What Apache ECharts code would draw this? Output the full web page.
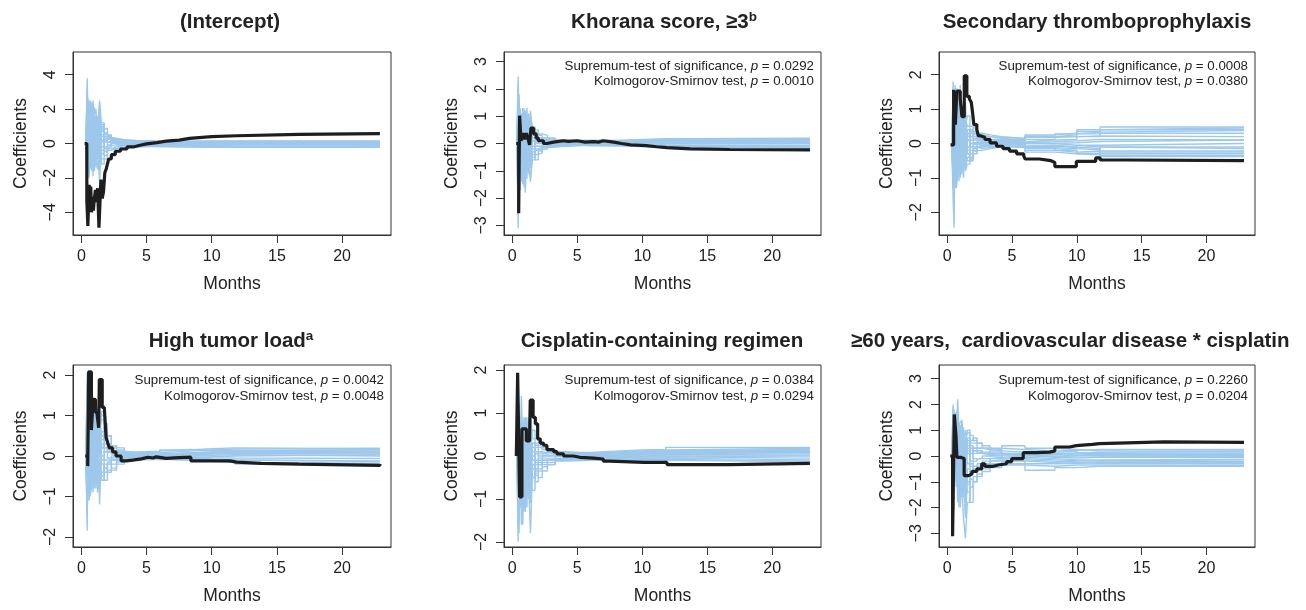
<!DOCTYPE html>
<html>
<head>
<meta charset="utf-8">
<script src="https://cdn.jsdelivr.net/npm/echarts@6/dist/echarts.min.js"></script>
<style>
  html, body { margin: 0; background: #fff; }
  #chart { width: 1306px; height: 610px; }
</style>
</head>
<body>
<div id="chart"></div>
<script>
// time grid shared by the resampled (light blue) processes
const simTimes = [0.35, 0.45, 0.52, 0.6, 0.7, 0.8, 0.9, 1.0, 1.12, 1.25, 1.4, 1.55, 1.75, 2.0, 2.3, 2.7, 3.3, 4.2, 6.0, 8.3, 10, 11.8, 22.9];
const xTicks = [0, 5, 10, 15, 20];

// (Intercept)
const interceptT = [0.25, 0.42, 0.5, 0.6, 0.66, 0.72, 0.78, 0.85, 0.92, 1.0, 1.08, 1.15, 1.25, 1.35, 1.5, 1.6, 1.7, 1.8, 1.9, 2.0, 2.1, 2.3, 2.6, 3.0, 3.5, 4.0, 4.5, 5.0, 5.8, 6.5, 7.5, 8.3, 10, 11.9, 16.7, 22.9];
const interceptCoef = [0, -3.3, -4.8, -2.4, -3.6, -2.5, -4.0, -3.1, -3.9, -3.2, -2.7, -3.4, -2.6, -4.9, -2.1, -3.2, -2.8, -1.7, -1.5, -1.2, -0.9, -0.65, -0.45, -0.32, -0.2, -0.1, -0.02, 0.05, 0.14, 0.2, 0.3, 0.4, 0.45, 0.53, 0.57, 0.57];
const interceptSims = [
  [0, 3.8, 1.2, 2.1, 0.4, 1.5, 0.6, 1.0, 0.3, 0.8, 0.5, 0.7, 0.4, 0.3, 0.2, 0.15, 0.12, 0.1, 0.12, 0.13, 0.13, 0.14, 0.14],
  [0, -2.4, 0.8, -0.6, 2.5, 1.1, -0.4, 0.6, 1.6, 0.9, 2.5, 1.1, 0.6, 0.4, 0.25, 0.18, 0.1, 0.08, 0.06, 0.07, 0.07, 0.08, 0.08],
  [0, 1.5, -1.8, 0.4, -0.8, 2.4, 1.2, -0.5, 0.4, -0.9, 0.3, -0.6, -0.3, -0.1, -0.15, -0.1, -0.08, -0.1, -0.12, -0.13, -0.14, -0.15, -0.15],
  [0, -0.8, 2.6, 1.4, -1.5, -0.2, 1.9, 1.3, -0.6, 0.5, -1.1, 0.8, 0.9, 0.5, 0.3, 0.2, 0.14, 0.12, 0.1, 0.1, 0.1, 0.11, 0.11],
  [0, 2.2, -0.5, -2.0, 0.9, -1.3, 0.2, -1.6, 0.9, 1.4, -0.4, 0.2, -0.2, -0.4, -0.3, -0.25, -0.2, -0.17, -0.19, -0.2, -0.2, -0.21, -0.21],
  [0, 0.6, 1.9, -0.9, 1.7, 0.5, -1.9, 0.1, 1.2, -0.3, 1.6, -0.9, 0.3, 0.2, 0.1, 0.05, 0.0, -0.02, -0.03, -0.04, -0.05, -0.05, -0.05],
  [0, -1.6, -0.2, 1.6, -1.2, 2.0, 0.7, -1.0, -0.3, 1.1, -1.5, 0.4, -0.7, -0.3, -0.2, -0.12, -0.1, -0.1, -0.12, -0.14, -0.15, -0.16, -0.16],
  [0, 1.0, 2.4, 0.3, 1.0, -1.6, 1.4, 2.1, 0.6, -0.8, 0.9, 1.2, 0.5, 0.35, 0.3, 0.22, 0.18, 0.15, 0.14, 0.15, 0.15, 0.15, 0.15],
  [0, -0.4, 0.6, 2.5, 0.2, 0.9, -0.8, 0.4, -1.4, 0.2, 2.2, -0.2, 0.1, 0.1, 0.0, 0.03, 0.02, 0.0, 0.02, 0.01, 0.02, 0.02, 0.02],
  [0, 2.9, -1.3, 0.8, 1.3, -0.5, 2.3, -0.2, 1.0, 0.6, -0.6, 1.0, 0.6, 0.45, 0.1, 0.0, -0.1, -0.05, -0.06, -0.08, -0.08, -0.09, -0.09],
  [0, -2.1, 1.4, -1.1, 0.6, 1.7, -1.2, 0.9, -0.9, -1.5, 0.6, -1.2, -0.9, -0.3, -0.3, -0.2, -0.15, -0.18, -0.2, -0.22, -0.22, -0.22, -0.22],
  [0, 1.2, 0.2, 1.8, 2.2, 0.3, 0.9, 1.7, 2.0, 0.4, 1.3, 0.5, 0.2, -0.1, 0.12, 0.1, 0.08, 0.05, 0.06, 0.07, 0.08, 0.08, 0.08],
  [0, 3.2, -0.9, -1.4, 0.3, -0.7, 1.6, -1.3, 0.2, -0.4, -2.2, 0.1, 0.4, 0.25, 0.0, -0.05, -0.03, -0.12, -0.14, -0.17, -0.18, -0.18, -0.18],
  [0, -1.2, 1.6, 0.6, 1.8, -1.0, 0.4, 1.4, -0.2, 1.6, 0.8, -0.4, -0.5, -0.2, 0.2, 0.15, 0.12, 0.1, 0.11, 0.12, 0.1, 0.11, 0.11],
  [0, 0.3, -1.1, 1.1, -0.4, 1.2, 2.5, 0.3, 1.4, -0.1, 0.5, 0.9, 0.1, 0.05, -0.05, -0.08, -0.04, -0.02, -0.01, 0.0, -0.01, 0.0, 0.0]
];

// Khorana score >= 3
const khoranaT = [0.3, 0.49, 0.56, 0.67, 0.82, 0.95, 1.08, 1.2, 1.33, 1.43, 1.64, 1.84, 2.0, 2.4, 2.66, 3.18, 3.94, 4.3, 5.0, 5.6, 6.25, 6.63, 7.0, 7.8, 8.4, 9.1, 10.3, 11.1, 11.9, 13.7, 16.7, 22.9];
const khoranaCoef = [0, -2.55, 1.02, 0.1, 0.38, 0.15, 0.38, 0.2, -0.05, 0.56, 0.35, 0.2, 0.1, 0.0, 0.05, 0.1, 0.08, 0.1, 0.05, 0.07, 0.05, 0.1, 0.05, 0.0, -0.05, -0.08, -0.12, -0.15, -0.2, -0.22, -0.23, -0.23];
const khoranaSims = [
  [0, 2.45, 0.8, 1.3, 0.5, 1.2, 0.3, 0.9, 0.4, 0.2, 1.2, 0.4, 0.3, 0.2, 0.15, 0.1, 0.08, 0.1, 0.12, 0.15, 0.18, 0.19, 0.19],
  [0, -3.1, 1.8, -0.5, 0.9, -0.3, 1.3, 0.2, -0.6, 0.5, -0.4, 0.2, 0.0, 0.1, 0.05, 0.03, 0.05, 0.05, 0.08, 0.1, 0.12, 0.14, 0.14],
  [0, 1.8, -1.6, 0.7, -1.2, 0.4, -0.5, -1.8, 0.3, -0.7, -1.4, -0.3, -0.6, -0.2, -0.1, -0.05, -0.02, 0.0, 0.02, 0.03, 0.05, 0.06, 0.06],
  [0, -1.2, 0.6, 1.2, -0.3, -1.5, 0.8, 0.3, 1.0, 0.6, 0.7, 0.5, 0.4, 0.3, 0.2, 0.15, 0.1, 0.12, 0.1, 0.08, 0.1, 0.11, 0.11],
  [0, 1.1, -0.9, -1.3, 0.6, 0.2, -1.0, 0.8, -0.4, -1.1, 0.3, -0.5, -0.4, -0.35, -0.2, -0.12, -0.08, -0.05, -0.06, -0.08, -0.1, -0.12, -0.12],
  [0, -2.0, 1.4, 0.2, 1.1, -0.7, 0.5, -0.4, 1.3, -0.2, 0.9, 0.6, 0.5, 0.35, 0.3, 0.2, 0.12, 0.08, 0.06, 0.05, 0.03, 0.02, 0.02],
  [0, 0.6, 0.3, -1.0, -0.6, 1.0, -1.6, -1.0, 0.1, 0.4, -0.8, 0.1, -0.1, -0.15, -0.1, -0.08, -0.05, -0.03, -0.02, -0.03, -0.05, -0.06, -0.06],
  [0, 1.5, -1.4, 0.4, 1.0, 0.6, 0.2, 0.4, -0.9, 0.9, -0.2, 0.3, 0.05, 0.1, 0.12, 0.1, 0.05, 0.02, 0.04, 0.06, 0.08, 0.09, 0.09],
  [0, -0.8, 0.9, -0.3, -1.4, 0.9, 1.1, -0.6, 0.5, -0.5, 0.4, 0.35, 0.15, 0.0, -0.05, 0.0, 0.0, -0.02, -0.05, -0.1, -0.14, -0.16, -0.16],
  [0, 2.1, 0.2, 0.7, 0.2, -1.1, -0.8, 1.2, -0.3, 0.8, -0.9, -0.4, -0.2, -0.25, -0.15, -0.12, -0.1, -0.06, -0.04, -0.02, -0.01, 0.0, 0.0],
  [0, -1.6, -0.5, -0.8, 0.9, 0.1, 0.6, -1.2, -0.5, 1.1, 0.2, 0.2, 0.1, 0.05, 0.05, 0.04, 0.04, 0.06, 0.09, 0.12, 0.15, 0.17, 0.17],
  [0, 0.9, 1.1, 0.4, -0.4, -0.9, -0.2, 0.5, 0.7, -0.3, -0.2, -0.1, -0.25, -0.3, -0.1, -0.06, -0.06, -0.04, -0.06, -0.08, -0.07, -0.08, -0.08],
  [0, -2.5, 0.4, 1.1, 0.5, 0.6, -0.7, 0.1, -1.3, 0.2, 0.6, 0.45, 0.2, 0.2, 0.12, 0.08, 0.07, 0.04, 0.03, 0.04, 0.07, 0.04, 0.04],
  [0, 1.3, -1.0, -0.2, -0.9, 1.3, 0.4, -0.8, 0.6, -1.0, -1.2, -0.6, -0.1, -0.1, -0.02, -0.04, -0.04, -0.08, -0.09, -0.11, -0.12, -0.13, -0.13],
  [0, -0.6, 0.7, -1.7, 0.3, -0.2, 0.9, 1.0, 0.2, 0.3, 0.1, -0.2, 0.3, 0.15, 0.08, 0.06, 0.02, 0.03, 0.05, 0.07, 0.1, 0.12, 0.12]
];

// Secondary thromboprophylaxis
const thromboT = [0.25, 0.49, 0.62, 0.74, 1.0, 1.13, 1.31, 1.51, 1.7, 1.85, 1.95, 2.05, 2.28, 2.4, 2.6, 2.9, 3.3, 3.8, 4.3, 4.8, 5.35, 5.9, 6.0, 7.1, 8.0, 8.3, 9.96, 11.45, 11.8, 13.8, 22.9];
const thromboCoef = [-0.04, 1.56, 0.55, 1.52, 1.3, 0.78, 1.97, 1.37, 1.3, 1.2, 0.9, 0.55, 0.4, 0.22, 0.18, 0.12, 0.02, -0.08, -0.15, -0.22, -0.3, -0.36, -0.45, -0.5, -0.55, -0.67, -0.52, -0.42, -0.48, -0.5, -0.52];
const thromboSims = [
  [0, 1.8, -0.6, 1.7, 0.5, 1.2, 0.8, 1.2, 0.6, 0.8, 0.5, 0.8, 0.5, 0.3, 0.25, 0.2, 0.15, 0.1, 0.2, 0.25, 0.35, 0.48, 0.48],
  [0, -1.6, -2.45, 0.3, 1.6, -0.3, 1.0, -0.8, 0.5, 0.2, -0.4, 0.1, 0.2, 0.1, 0.05, 0.02, 0.0, 0.0, -0.1, -0.2, -0.3, -0.38, -0.38],
  [0, 1.2, 0.4, -1.3, -0.4, 0.5, -0.7, 1.7, -0.5, 0.4, -0.3, -0.5, -0.3, -0.2, -0.1, -0.05, -0.02, 0.05, 0.12, 0.2, 0.28, 0.4, 0.4],
  [0, -0.8, 0.6, 0.9, -1.3, -0.9, 0.4, -1.0, 0.2, 0.6, 0.4, 0.25, 0.4, 0.25, 0.15, 0.1, 0.1, 0.08, 0.0, -0.05, -0.1, -0.15, -0.15],
  [0, 0.5, -1.2, -0.5, 1.1, 0.3, -0.6, 0.6, -0.9, -0.3, -0.8, -0.6, -0.4, -0.1, -0.05, 0.0, -0.05, -0.1, -0.2, -0.25, -0.22, -0.3, -0.3],
  [0, 1.5, 1.0, 0.6, -0.7, 1.6, -0.6, 0.5, 1.1, -0.5, 0.7, 0.5, 0.2, 0.45, 0.3, 0.25, 0.2, 0.15, 0.25, 0.3, 0.4, 0.45, 0.45],
  [0, -1.1, 0.2, -1.0, 0.8, 0.7, 1.3, -0.4, 0.3, -1.0, 0.1, -0.3, -0.5, -0.3, -0.2, -0.15, -0.1, -0.08, -0.05, -0.1, -0.15, -0.22, -0.22],
  [0, 0.9, -0.4, 1.5, 0.2, -1.0, 0.2, 0.9, -0.6, 0.7, 1.2, -0.2, 0.3, 0.15, 0.12, 0.12, 0.08, 0.05, 0.1, 0.12, 0.2, 0.3, 0.3],
  [0, -0.3, 1.4, 0.2, -1.2, 0.4, -1.1, 0.3, 0.8, -0.2, 0.3, 0.3, -0.1, 0.0, -0.05, -0.08, 0.0, -0.05, -0.15, -0.2, -0.28, -0.35, -0.35],
  [0, 1.0, -0.9, -0.8, 0.6, -0.4, 0.9, -0.2, -0.4, 1.0, -0.7, -0.4, 0.1, -0.15, 0.0, 0.08, 0.05, 0.02, 0.05, 0.08, 0.12, 0.1, 0.1],
  [0, -1.3, 0.8, 0.4, 1.3, 0.6, -0.3, -0.7, 1.0, 0.3, 0.6, 0.2, 0.35, 0.2, 0.1, 0.12, 0.12, 0.12, 0.18, 0.2, 0.22, 0.2, 0.2],
  [0, 0.6, -1.3, -0.2, -0.6, 0.2, 0.5, 1.1, -0.3, -0.6, 0.2, -0.1, 0.0, -0.05, 0.02, 0.05, -0.02, -0.02, -0.08, -0.12, -0.05, 0.0, 0.0],
  [0, -0.5, 1.1, 1.0, 0.4, -0.7, 1.5, 0.0, 0.7, 0.1, -0.2, 0.4, 0.2, 0.35, 0.25, 0.2, 0.18, 0.15, 0.22, 0.28, 0.33, 0.38, 0.38],
  [0, 1.4, -0.2, -0.6, -0.3, 1.4, 0.1, -0.6, -0.2, 0.5, -0.5, -0.2, -0.45, -0.1, -0.15, -0.12, -0.08, -0.12, -0.25, -0.3, -0.33, -0.25, -0.25],
  [0, -0.9, 0.4, 0.7, 0.9, 0.4, -0.2, 0.8, 0.4, -0.4, 0.9, 0.1, 0.0, 0.05, 0.0, -0.02, 0.02, 0.0, 0.0, 0.02, 0.06, 0.1, 0.1],
  [0, 0.3, -0.8, -1.1, -0.2, -0.5, 0.7, -0.9, 0.1, 0.3, -0.2, -0.3, -0.2, -0.25, -0.1, -0.08, -0.1, -0.06, -0.12, -0.15, -0.18, -0.1, -0.1]
];

// High tumor load
const tumorT = [0.3, 0.49, 0.56, 0.77, 0.9, 1.08, 1.2, 1.33, 1.38, 1.6, 1.77, 1.9, 2.0, 2.15, 2.4, 2.66, 3.05, 3.43, 3.94, 4.6, 5.1, 5.5, 5.74, 6.5, 7.5, 8.4, 10.1, 11.4, 11.9, 13.8, 16.7, 22.9];
const tumorCoef = [0, -0.25, 2.08, 0.64, 1.4, 1.1, 1.05, 0.7, 1.89, 1.2, 1.15, 0.45, 0.35, 0.2, 0.1, 0.0, -0.12, -0.1, -0.07, -0.03, -0.05, -0.02, -0.06, -0.04, -0.03, -0.12, -0.12, -0.15, -0.18, -0.2, -0.23, -0.2];
const tumorSims = [
  [0, 2.05, 0.5, 1.5, 0.9, 1.2, 0.6, 1.0, 0.4, 1.2, 0.7, 1.0, 0.4, 0.5, 0.25, 0.15, 0.05, 0.08, 0.12, 0.15, 0.17, 0.19, 0.19],
  [0, -1.85, 1.2, 0.3, 1.5, 0.4, -0.3, 0.9, -0.4, 0.3, -0.6, 0.2, -0.4, -0.2, -0.1, -0.05, -0.02, -0.02, 0.0, 0.02, 0.03, 0.0, 0.0],
  [0, 1.3, -0.8, -0.5, 0.2, -0.8, 1.1, 0.3, -0.6, 0.5, -1.2, 0.3, 0.2, 0.1, 0.1, 0.05, 0.03, 0.05, 0.08, 0.1, 0.1, 0.12, 0.12],
  [0, -0.9, 0.8, 1.1, -0.7, 0.9, 0.5, -0.5, 1.3, -0.2, 0.8, 0.5, 0.3, 0.3, 0.2, 0.12, 0.08, 0.1, 0.15, 0.18, 0.2, 0.18, 0.18],
  [0, 0.7, -1.1, 0.6, -1.0, 0.3, -0.6, -0.8, 0.2, -0.5, 0.4, -0.5, -0.3, -0.4, -0.35, -0.2, -0.1, -0.08, -0.1, -0.12, -0.15, -0.2, -0.2],
  [0, 1.6, 1.4, -0.9, 0.5, 1.4, 0.8, 0.2, 0.9, 1.0, 0.6, 0.9, 0.6, 0.1, 0.05, 0.0, 0.0, -0.03, -0.05, -0.08, -0.1, -0.12, -0.12],
  [0, -1.2, -0.3, 0.9, 1.2, -0.3, 0.2, 1.1, -0.7, 0.6, 0.2, -0.2, -0.6, -0.15, -0.1, -0.08, -0.06, -0.05, -0.04, -0.02, 0.0, 0.03, 0.03],
  [0, 0.4, 0.9, -0.3, -0.4, 1.1, -0.9, 0.5, 0.8, -0.6, 1.1, 0.2, 0.3, 0.25, 0.1, 0.08, 0.04, 0.03, 0.05, 0.06, 0.08, 0.08, 0.08],
  [0, -0.5, -1.0, 1.3, 0.1, 0.0, 1.0, -0.3, 0.3, -0.9, -0.4, -0.6, -0.2, -0.2, -0.3, -0.15, -0.08, -0.07, -0.1, -0.13, -0.16, -0.18, -0.18],
  [0, 1.0, 0.2, -1.1, 0.8, 0.5, 1.3, 0.6, -0.2, 1.1, 0.5, 1.1, 0.8, 0.5, 0.25, 0.2, 0.1, 0.12, 0.16, 0.14, 0.14, 0.15, 0.15],
  [0, -1.5, 0.6, 0.2, -0.9, -0.8, 0.2, 0.4, -0.8, 0.0, 0.3, 0.0, -0.1, -0.1, 0.0, 0.0, -0.02, 0.0, -0.02, -0.04, -0.05, -0.06, -0.06],
  [0, 1.8, -0.5, 0.8, 0.3, 0.2, -0.5, 1.2, 0.6, 0.2, -0.3, -0.4, -0.3, -0.35, -0.2, -0.1, 0.0, 0.02, 0.04, 0.08, 0.1, 0.1, 0.1],
  [0, -0.2, 1.1, -0.6, 1.0, -0.4, 0.7, -0.1, 0.9, 0.4, 0.9, 0.4, 0.5, 0.15, 0.1, 0.05, 0.02, -0.02, -0.06, -0.08, -0.1, -0.14, -0.14],
  [0, 0.9, -0.7, 0.5, -0.2, 0.6, -0.2, 0.8, 0.1, -0.3, 0.5, -0.1, 0.1, -0.05, -0.05, -0.05, -0.03, 0.0, 0.03, 0.05, 0.06, 0.05, 0.05],
  [0, -1.0, 1.5, 0.1, 0.6, -0.5, 0.4, -0.4, 0.5, 0.7, -0.8, 0.6, 0.2, 0.2, 0.1, 0.06, 0.02, 0.04, 0.07, 0.1, 0.12, 0.16, 0.16]
];

// Cisplatin-containing regimen
const cisplatinT = [0.31, 0.41, 0.56, 0.74, 1.08, 1.33, 1.38, 1.6, 1.77, 1.95, 2.15, 2.4, 2.66, 3.18, 3.43, 3.94, 4.7, 5.2, 6.25, 7.0, 7.5, 10.1, 11.9, 16.7, 22.9];
const cisplatinCoef = [0, 1.94, -0.95, 0.63, 0.35, 0.45, 1.3, 0.9, 0.75, 0.4, 0.3, 0.25, 0.15, 0.1, 0.05, 0.0, -0.03, -0.05, -0.07, -0.12, -0.15, -0.15, -0.2, -0.17, -0.17];
const cisplatinSims = [
  [0, -2.0, 0.8, 0.2, 1.4, 0.3, 0.6, 0.2, 0.4, 0.3, 1.0, 0.4, 0.3, 0.2, 0.15, 0.1, 0.05, 0.05, 0.08, 0.1, 0.12, 0.15, 0.15],
  [0, 1.1, -1.2, -0.5, 0.9, -1.6, -0.4, -1.3, 0.2, -0.6, -1.8, -0.3, -0.6, -0.2, -0.1, -0.1, -0.05, -0.02, 0.0, 0.02, 0.03, 0.05, 0.05],
  [0, -1.4, -0.3, 0.6, -1.2, 0.4, 0.9, 0.3, -0.9, 0.5, 0.4, 0.6, 0.4, 0.3, 0.2, 0.15, 0.1, 0.06, 0.1, 0.12, 0.14, 0.18, 0.18],
  [0, 0.5, 0.9, -1.0, -0.6, -0.9, -0.2, 0.8, -0.4, -1.0, -0.6, -0.8, -0.45, -0.5, -0.35, -0.2, -0.1, -0.08, -0.06, -0.08, -0.1, -0.13, -0.13],
  [0, -0.8, -1.5, 0.2, 0.7, 0.2, -1.3, 0.1, 0.6, 0.1, -0.3, 0.1, -0.2, -0.05, 0.0, 0.02, 0.02, 0.0, 0.02, 0.04, 0.05, 0.08, 0.08],
  [0, 0.9, 0.3, -0.7, -1.0, 0.6, 0.4, -0.5, -1.2, 0.3, -0.8, -0.5, -0.3, -0.3, -0.2, -0.15, -0.08, -0.05, -0.03, -0.02, -0.01, 0.0, 0.0],
  [0, -1.1, 0.5, 0.9, 0.5, -0.3, -0.9, 0.9, 0.2, -0.5, 0.2, 0.2, 0.1, 0.1, 0.08, 0.05, 0.03, 0.02, 0.05, 0.07, 0.09, 0.11, 0.11],
  [0, 0.2, -0.9, -0.3, -0.3, 0.1, 0.6, -0.6, -0.1, 0.6, -0.4, 0.3, -0.4, -0.2, -0.15, -0.1, -0.06, -0.1, -0.08, -0.06, -0.05, -0.09, -0.09],
  [0, -1.7, 0.1, -1.2, 0.4, -1.1, 0.2, -0.5, 0.9, -0.2, -1.1, -0.2, 0.05, 0.05, 0.08, 0.08, 0.06, 0.04, 0.07, 0.09, 0.11, 0.13, 0.13],
  [0, 0.6, -0.5, 0.3, -0.8, 0.5, -0.4, 0.5, 0.3, -0.3, 0.5, -0.1, -0.1, -0.1, -0.05, -0.05, 0.0, -0.03, -0.01, 0.0, 0.02, 0.02, 0.02],
  [0, -0.4, 1.0, -0.8, 0.1, -0.6, 0.7, -0.2, -0.6, 0.9, -0.6, 0.3, 0.25, 0.25, 0.15, 0.12, 0.08, 0.08, 0.12, 0.14, 0.15, 0.2, 0.2],
  [0, 1.2, -1.8, 0.5, -1.6, 0.0, -0.7, -0.9, 0.4, -0.4, 0.0, -0.5, -0.35, -0.35, -0.25, -0.2, -0.12, -0.1, -0.1, -0.1, -0.08, -0.12, -0.12],
  [0, -0.9, 0.4, -0.1, 0.6, -0.2, 0.3, 0.6, -0.5, 0.2, 0.7, 0.0, 0.2, 0.0, 0.02, 0.02, -0.02, 0.01, 0.03, 0.05, 0.07, 0.08, 0.08],
  [0, 0.3, -0.7, 0.8, -0.5, 0.3, -1.1, 0.2, 0.5, -0.8, 0.3, -0.3, -0.15, -0.15, -0.1, -0.08, -0.04, -0.05, -0.04, -0.03, -0.02, -0.05, -0.05],
  [0, -1.3, 1.2, -0.4, 0.2, -1.3, 0.1, -1.1, -0.2, 0.4, -0.9, -0.2, -0.3, 0.1, 0.05, 0.0, -0.02, 0.02, 0.05, 0.06, 0.08, 0.12, 0.12]
];

// >=60 years, cardiovascular disease * cisplatin
const interactT = [0.23, 0.41, 0.54, 0.67, 0.74, 1.0, 1.3, 1.64, 1.9, 2.28, 2.66, 2.9, 3.56, 3.94, 4.58, 4.97, 5.86, 6.9, 7.9, 8.3, 9.45, 9.96, 11.2, 11.75, 16.7, 22.9];
const interactCoef = [0, -3.11, 1.61, 0.8, -0.05, -0.1, -0.76, -0.7, -0.6, -0.5, -0.3, -0.4, -0.35, -0.3, -0.22, -0.1, 0.13, 0.15, 0.2, 0.35, 0.4, 0.45, 0.48, 0.55, 0.53, 0.52];
const interactSims = [
  [0, 2.0, 1.2, 1.7, 0.6, 2.2, 1.0, 0.8, 1.3, 0.9, 0.5, 1.0, 0.6, 0.7, 0.5, 0.4, 0.3, 0.25, 0.2, 0.22, 0.25, 0.25, 0.25],
  [0, -1.5, 0.5, -0.8, 1.5, 0.3, -2.0, 0.4, -1.2, -2.4, -3.2, -1.8, -1.2, -1.0, -0.8, -0.5, -0.3, -0.3, -0.55, -0.45, -0.4, -0.4, -0.4],
  [0, 1.4, -1.0, 1.2, -0.5, 0.6, 1.3, -0.4, 0.5, 1.0, 0.2, 0.6, 0.4, 0.2, 0.2, 0.1, 0.1, 0.1, 0.05, 0.02, 0.0, -0.02, -0.02],
  [0, -0.5, 1.8, 0.4, -1.2, 0.8, -0.6, -1.5, 0.3, -1.1, -2.4, -1.0, -1.8, -0.8, -0.5, -0.4, -0.2, -0.15, -0.2, -0.25, -0.28, -0.3, -0.3],
  [0, 0.8, -2.1, 0.1, 1.5, -1.5, 1.2, 1.3, 1.4, 0.5, 1.0, 0.5, 0.3, 0.3, 0.2, 0.1, 0.2, 0.15, 0.1, 0.12, 0.15, 0.18, 0.18],
  [0, -2.0, 1.0, 0.6, -0.4, -1.2, 0.2, -0.6, -1.6, 0.3, -1.5, -0.5, -0.7, -0.5, -0.4, -0.3, -0.1, -0.05, -0.1, -0.15, -0.15, -0.12, -0.12],
  [0, 1.7, -0.3, 1.5, 0.3, 1.0, -0.5, 1.0, 0.2, 0.6, -0.4, 0.2, -0.2, -0.2, -0.1, 0.0, 0.05, 0.02, -0.05, -0.08, -0.05, -0.05, -0.05],
  [0, 0.3, 1.5, -0.5, 0.9, -0.8, 0.7, 0.2, 0.6, -0.5, 0.6, 0.9, 0.8, 0.6, 0.5, 0.3, 0.25, 0.4, 0.3, 0.25, 0.2, 0.2, 0.2],
  [0, -1.0, -0.6, 0.9, -1.0, 0.5, -1.4, -2.0, -0.5, -1.6, -0.9, -1.4, -0.9, -1.0, -0.7, -0.6, -0.45, -0.35, -0.4, -0.35, -0.35, -0.36, -0.36],
  [0, 1.0, 0.7, -0.2, 1.6, 1.8, 0.4, -0.8, -0.2, 0.7, 0.3, 0.1, 0.3, 0.1, 0.15, 0.15, 0.0, -0.1, -0.15, -0.18, -0.2, -0.22, -0.22],
  [0, -0.8, 1.3, 0.2, -0.3, 0.4, -0.9, 0.6, 0.7, 0.1, 0.7, 0.3, 0.5, 0.5, 0.3, 0.3, 0.15, 0.05, 0.1, 0.08, 0.06, 0.05, 0.05],
  [0, 1.9, -0.5, 0.8, 0.6, -0.6, 0.1, -1.0, -0.8, 0.4, -0.8, -1.0, -0.6, -0.4, -0.3, -0.2, -0.15, -0.2, -0.3, -0.28, -0.25, -0.25, -0.25],
  [0, -0.2, 0.9, -1.0, 1.0, 1.3, 0.8, 0.3, 1.0, -0.3, 0.3, -0.3, 0.2, -0.1, -0.1, -0.1, -0.05, 0.0, 0.05, 0.1, 0.12, 0.1, 0.1],
  [0, 0.6, -0.8, 1.3, -0.6, 0.2, -0.4, 1.2, -0.3, 0.8, -0.3, 0.4, -0.4, 0.2, 0.1, 0.05, 0.1, 0.05, -0.02, 0.0, 0.03, 0.02, 0.02],
  [0, -1.2, 0.3, 0.5, 0.2, -0.5, 1.1, -0.2, -1.1, -0.6, 0.5, -1.1, -0.3, -0.6, -0.5, -0.35, -0.3, -0.2, -0.25, -0.2, -0.18, -0.16, -0.16],
  [0, 1.2, 0.0, -0.4, 0.9, -1.8, 0.5, 0.9, 0.1, 1.1, -1.8, 0.7, 0.1, 0.3, 0.3, 0.25, 0.2, 0.1, 0.15, 0.18, 0.1, 0.12, 0.12]
];

const interceptTicks = [-4, -2, 0, 2, 4];
const khoranaTicks = [-3, -2, -1, 0, 1, 2, 3];
const thromboTicks = [-2, -1, 0, 1, 2];
const tumorTicks = [-2, -1, 0, 1, 2];
const cisplatinTicks = [-2, -1, 0, 1, 2];
const interactTicks = [-3, -2, -1, 0, 1, 2, 3];

const supremumP = [null, '0.0292', '0.0008', '0.0042', '0.0384', '0.2260'];
const ksP = [null, '0.0010', '0.0380', '0.0048', '0.0294', '0.0204'];

const panels = [
  { t: interceptT, coef: interceptCoef, sims: interceptSims, ticks: interceptTicks },
  { t: khoranaT, coef: khoranaCoef, sims: khoranaSims, ticks: khoranaTicks },
  { t: thromboT, coef: thromboCoef, sims: thromboSims, ticks: thromboTicks },
  { t: tumorT, coef: tumorCoef, sims: tumorSims, ticks: tumorTicks },
  { t: cisplatinT, coef: cisplatinCoef, sims: cisplatinSims, ticks: cisplatinTicks },
  { t: interactT, coef: interactCoef, sims: interactSims, ticks: interactTicks }
];

// layout (pixels) and axis ranges
const colLeft = [73, 504, 939];
const colWidth = [318, 317, 316];
const rowTop = [52, 365];
const rowHeight = [183, 182];
const yLim = [5.32, 3.35, 2.66, 2.25, 2.12, 3.53];

const FONT = '"Liberation Sans", Arial, Helvetica, sans-serif';
const INK = '#222';
const BLUE = '#9dc8eb';
const minus = v => String(v).replace('-', '\u2212');

const chart = echarts.init(document.getElementById('chart'));
const grids = [], xAxes = [], yAxes = [], series = [], graphics = [];

panels.forEach((p, i) => {
  const col = i % 3, row = Math.floor(i / 3);
  grids.push({
    left: colLeft[col], top: rowTop[row], width: colWidth[col], height: rowHeight[row],
    show: true, borderColor: '#333', borderWidth: 1, backgroundColor: 'transparent'
  });
  xAxes.push({
    type: 'value', gridIndex: i, min: -0.64, max: 23.75,
    axisLine: { show: true, onZero: false, lineStyle: { color: '#333', width: 1 } },
    axisTick: { show: true, length: 8, customValues: xTicks, lineStyle: { color: '#333' } },
    axisLabel: { customValues: xTicks, fontSize: 16, fontFamily: FONT, color: INK, margin: 14 },
    splitLine: { show: false },
    name: 'Months', nameLocation: 'middle', nameGap: 40,
    nameTextStyle: { fontSize: 17.5, fontFamily: FONT, color: INK }
  });
  yAxes.push({
    type: 'value', gridIndex: i, min: -yLim[i], max: yLim[i],
    axisLine: { show: true, onZero: false, lineStyle: { color: '#333', width: 1 } },
    axisTick: { show: true, length: 8, customValues: p.ticks, lineStyle: { color: '#333' } },
    axisLabel: { customValues: p.ticks, rotate: 90, fontSize: 16, fontFamily: FONT, color: INK, margin: 14, formatter: minus },
    splitLine: { show: false },
    name: 'Coefficients', nameLocation: 'middle', nameGap: 43,
    nameTextStyle: { fontSize: 17.5, fontFamily: FONT, color: INK }
  });
  p.sims.forEach(path => {
    series.push({
      type: 'line', xAxisIndex: i, yAxisIndex: i, step: 'end', symbol: 'none', silent: true, z: 2,
      data: simTimes.map((t, k) => [t, path[k]]),
      lineStyle: { color: BLUE, width: 1.4 }
    });
  });
  series.push({
    type: 'line', xAxisIndex: i, yAxisIndex: i, step: 'end', symbol: 'none', silent: true, z: 3,
    data: p.t.map((t, k) => [t, p.coef[k]]),
    lineStyle: { color: '#1e1e1e', width: 3.2 }
  });

  if (supremumP[i]) {
    const right = colLeft[col] + colWidth[col] - 7;
    const y1 = row === 0 ? 66.7 : 380.7;
    const y2 = row === 0 ? 81.7 : 396.7;
    const rich = {
      n: { fontSize: 13.3, fontFamily: FONT, fill: INK },
      i: { fontSize: 13.3, fontFamily: FONT, fontStyle: 'italic', fill: INK }
    };
    graphics.push({ type: 'text', x: right, y: y1, silent: true, style: {
      text: '{n|Supremum-test of significance, }{i|p}{n| = ' + supremumP[i] + '}',
      rich, align: 'right', verticalAlign: 'middle' } });
    graphics.push({ type: 'text', x: right, y: y2, silent: true, style: {
      text: '{n|Kolmogorov-Smirnov test, }{i|p}{n| = ' + ksP[i] + '}',
      rich, align: 'right', verticalAlign: 'middle' } });
  }
});

// panel titles
const titleRich = {
  m: { fontSize: 20.5, fontWeight: 'bold', fontFamily: FONT, fill: INK, lineHeight: 24 },
  s: { fontSize: 13.5, fontWeight: 'bold', fontFamily: FONT, fill: INK, verticalAlign: 'top', lineHeight: 24 }
};
const titles = [
  { text: '{m|(Intercept)}', x: 230, y: 22, align: 'center' },
  { text: '{m|Khorana score, \u22653}{s|b}', x: 664, y: 22, align: 'center' },
  { text: '{m|Secondary thromboprophylaxis}', x: 1097, y: 22, align: 'center' },
  { text: '{m|High tumor load}{s|a}', x: 231, y: 341, align: 'center' },
  { text: '{m|Cisplatin-containing regimen}', x: 662, y: 341, align: 'center' },
  { text: '{m|\u226560 years,  cardiovascular disease * cisplatin}', x: 851, y: 341, align: 'left' }
];
titles.forEach(t => graphics.push({ type: 'text', x: t.x, y: t.y, silent: true,
  style: { text: t.text, rich: titleRich, align: t.align, verticalAlign: 'middle' } }));

chart.setOption({
  animation: false,
  backgroundColor: '#fff',
  grid: grids,
  xAxis: xAxes,
  yAxis: yAxes,
  series: series,
  graphic: graphics
});
</script>
</body>
</html>
